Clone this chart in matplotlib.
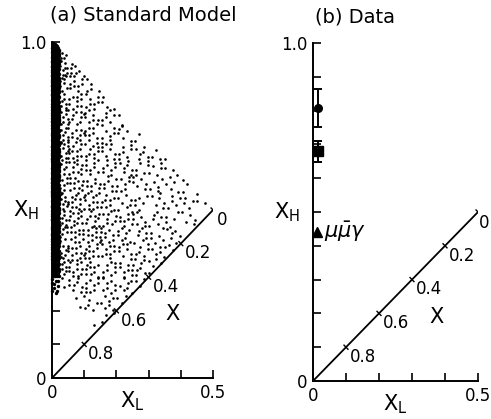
import numpy as np
import matplotlib.pyplot as plt
from matplotlib.ticker import FixedLocator, FixedFormatter

# (a) Standard Model: dot density per cell
# columns = x_L cells, rows = x_H cells (lower edge, height 0.05), top to bottom
xl_edges = [0.022, 0.05, 0.10, 0.15, 0.20, 0.25, 0.30, 0.35, 0.40, 0.45, 0.50]
xh_rows = [0.95, 0.90, 0.85, 0.80, 0.75, 0.70, 0.65, 0.60, 0.55,
           0.50, 0.45, 0.40, 0.35, 0.30, 0.25, 0.20, 0.15]
density = [
    [16, 10, 8, 0, 0, 0, 0, 0, 0, 0],
    [16, 10, 8, 7, 0, 0, 0, 0, 0, 0],
    [15, 10, 8, 7, 6, 0, 0, 0, 0, 0],
    [14, 10, 8, 7, 6, 5, 0, 0, 0, 0],
    [14, 10, 8, 7, 6, 5, 5, 0, 0, 0],
    [14, 11, 9, 7, 6, 5, 5, 5, 0, 0],
    [14, 11, 9, 8, 7, 6, 5, 5, 0, 0],
    [14, 11, 9, 8, 7, 6, 5, 5, 5, 0],
    [15, 12, 10, 8, 7, 6, 5, 5, 5, 5],
    [15, 12, 10, 9, 7, 6, 6, 5, 5, 5],
    [15, 12, 10, 9, 8, 7, 6, 5, 5, 0],
    [15, 12, 11, 9, 8, 7, 6, 6, 0, 0],
    [14, 12, 11, 9, 8, 7, 6, 6, 0, 0],
    [12, 11, 10, 9, 8, 7, 6, 0, 0, 0],
    [4, 8, 9, 8, 7, 6, 0, 0, 0, 0],
    [0, 2, 6, 7, 6, 0, 0, 0, 0, 0],
    [0, 0, 1, 3, 0, 0, 0, 0, 0, 0],
]
# the solid band along x_L ~ 0
band_xl = [0.0, 0.022]
band_rows = [0.95, 0.90, 0.85, 0.80, 0.75, 0.70, 0.65, 0.60, 0.55,
             0.50, 0.45, 0.40, 0.35, 0.30, 0.25]
band_counts = [80, 80, 80, 80, 80, 80, 80, 80, 80, 80, 80, 75, 60, 40, 10]

# (b) Data
data_xl = [0.016, 0.016, 0.012]
data_xh = [0.808, 0.680, 0.44]
data_err = [0.057, 0.031, 0.0]

diag_ticks = [0.1, 0.2, 0.3, 0.4, 0.5]
diag_labels = ['0.8', '0.6', '0.4', '0.2', '0']

# spread the dots of each cell evenly (R2 sequence)
g = 1.32471795724
a1, a2 = 1 / g, 1 / g ** 2
k = 0


def fill(x0, x1, y0, y1, n):
    global k
    xs, ys = [], []
    for i in range(n):
        k += 1
        u = (0.5 + a1 * k) % 1
        v = (0.5 + a2 * k) % 1
        x = x0 + u * (x1 - x0)
        y = y0 + v * (y1 - y0)
        if x <= y and y <= 1 - x + 0.004:
            xs.append(x)
            ys.append(y)
    return xs, ys


px, py = [], []
for r, y0 in enumerate(xh_rows):
    for c in range(len(xl_edges) - 1):
        x0, x1 = xl_edges[c], xl_edges[c + 1]
        n = int(round(density[r][c] * (x1 - x0) / 0.05))
        xs, ys = fill(x0, x1, y0, y0 + 0.05, n)
        px += xs
        py += ys
bx, by = [], []
for y0, n in zip(band_rows, band_counts):
    xs, ys = fill(band_xl[0], band_xl[1], y0, min(y0 + 0.05, 1.0), n)
    bx += xs
    by += ys

plt.rcParams['font.family'] = 'DejaVu Sans'
fig = plt.figure(figsize=(4.91, 4.19), dpi=100)
ax1 = fig.add_axes([52 / 491, 1 - 378 / 419, 161 / 491, 336 / 419])
ax2 = fig.add_axes([313 / 491, 1 - 381 / 419, 165 / 491, 338 / 419])

for j, ax in enumerate((ax1, ax2)):
    ax.set_xlim(0, 0.5)
    ax.set_ylim(0, 1.0)
    for s in ('top', 'right'):
        ax.spines[s].set_visible(False)
    for s in ('left', 'bottom'):
        ax.spines[s].set_linewidth(1.4)
    ax.xaxis.set_major_locator(FixedLocator([0, 0.1, 0.2, 0.3, 0.4, 0.5]))
    ax.xaxis.set_major_formatter(FixedFormatter(['0', '', '', '', '', '0.5']))
    ax.yaxis.set_major_locator(FixedLocator(np.arange(0, 1.01, 0.1)))
    ax.yaxis.set_major_formatter(FixedFormatter(['0'] + [''] * 9 + ['1.0']))
    ax.tick_params(direction='in', length=6, width=1.2, labelsize=12, pad=4)
    # diagonal x_H = x_L with its X scale
    ax.plot([0, 0.5], [0, 0.5], color='black', lw=1.3)
    for t, lab in zip(diag_ticks, diag_labels):
        ax.plot([t - 0.006, t + 0.006], [t + 0.006, t - 0.006], color='black', lw=1)
        off = (0.5, -8) if (j == 1 and t == 0.5) else (3, -7)
        ax.annotate(lab, (t, t), xytext=off, textcoords='offset points',
                    ha='left', va='center', fontsize=12, annotation_clip=False)
    ax.text(0.375, 0.19, 'X', fontsize=15, ha='center', va='center')
    ax.text(-0.16, 0.5, r'X$_\mathregular{H}$', transform=ax.transAxes,
            fontsize=15, ha='center', va='center')
    ax.text(0.5, -0.07, r'X$_\mathregular{L}$', transform=ax.transAxes,
            fontsize=15, ha='center', va='center')

ax1.scatter(px, py, s=3.6, color='black', linewidths=0, clip_on=False)
ax1.scatter(bx, by, s=6, color='black', linewidths=0, clip_on=False)

ax2.errorbar(data_xl[0], data_xh[0], yerr=data_err[0], fmt='o', color='black',
             ms=5.5, capsize=3, elinewidth=1.4, capthick=1.4, clip_on=False)
ax2.errorbar(data_xl[1], data_xh[1], yerr=data_err[1], fmt='s', color='black',
             ms=7, capsize=3, elinewidth=1.4, capthick=1.4, clip_on=False)
ax2.plot(data_xl[2], data_xh[2], '^', color='black', ms=6.5, clip_on=False)
ax2.text(0.034, 0.44, r'$\mu\bar{\mu}\gamma$', fontsize=15, ha='left', va='center')

fig.text(143 / 491, 1 - 15 / 419, '(a) Standard Model', fontsize=14,
         ha='center', va='center')
fig.text(355 / 491, 1 - 17 / 419, '(b) Data', fontsize=14,
         ha='center', va='center')

fig.savefig('out.png', dpi=100)
